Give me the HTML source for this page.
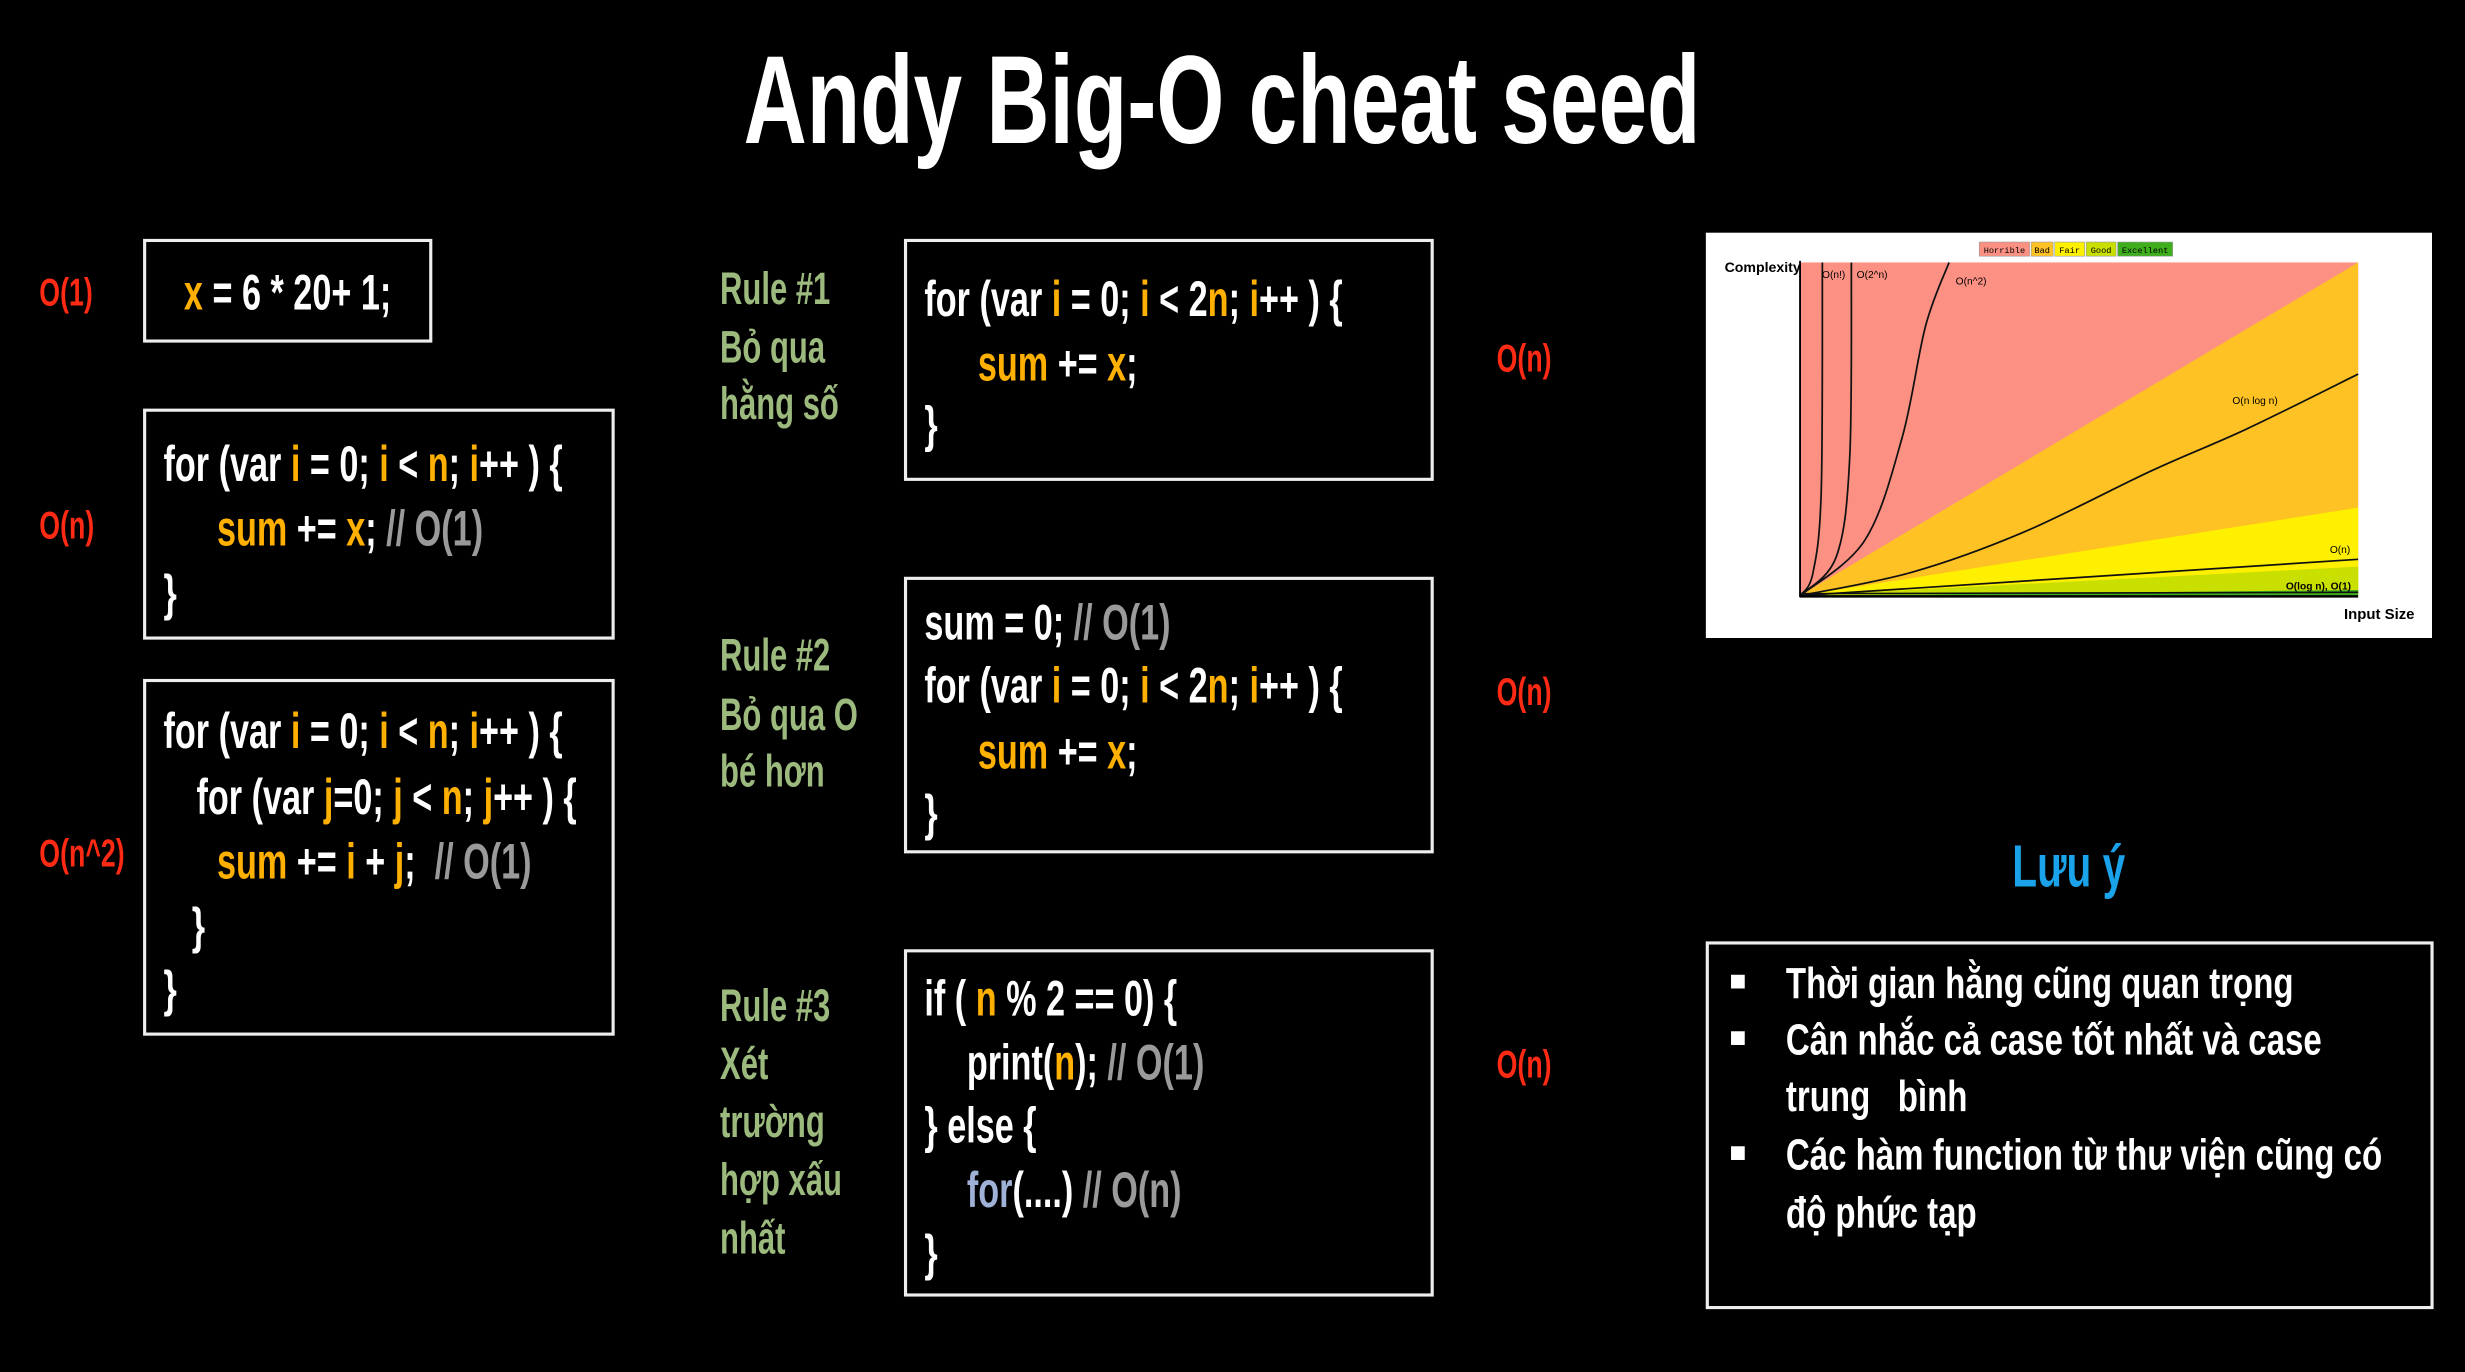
<!DOCTYPE html>
<html><head><meta charset="utf-8">
<style>
html,body{margin:0;padding:0;background:#000;width:2465px;height:1372px;overflow:hidden}
#w{position:absolute;left:0;top:0;width:1568px;height:873px;transform:scale(1.5721,1.5716);transform-origin:0 0;background:#000;
font-family:"Liberation Sans Narrow","Liberation Sans","Noto Sans CJK SC",sans-serif;font-weight:bold;color:#fff}
.t{position:absolute;white-space:nowrap;line-height:1;transform-origin:0 50%;transform:translateY(-50%) scaleX(.68)}
.c{font-size:32px}
.box{position:absolute;border:2px solid #eee;box-sizing:border-box}
.v{color:#ffb000}.g{color:#9a9a9a}.b{color:#9fb1d6}
.red{color:#ff2a14;font-size:25px}
.rule{color:#9cba7e;font-size:29px}
.note{font-size:28px;transform:translateY(-50%) scaleX(.75)}
</style></head><body>
<div id="w">
<div class="t" style="left:473px;top:64px;font-size:80px;transform:translateY(-50%) scaleX(.695)">Andy Big-O cheat seed</div>

<div class="t red" style="left:25px;top:187px">O(1)</div>
<div class="t red" style="left:25px;top:335px">O(n)</div>
<div class="t red" style="left:25px;top:544px">O(n^2)</div>

<div class="box" style="left:91px;top:152px;width:184px;height:66px"></div>
<div class="t c" style="left:117px;top:186px"><span class="v">x</span> = 6 * 20+ 1;</div>

<div class="box" style="left:91px;top:260px;width:300px;height:147px"></div>
<div class="t c" style="left:104px;top:295px">for (var <span class="v">i</span> = 0; <span class="v">i</span> &lt; <span class="v">n</span>; <span class="v">i</span>++ ) {</div>
<div class="t c" style="left:138px;top:336px"><span class="v">sum</span> += <span class="v">x</span>; <span class="g">// O(1)</span></div>
<div class="t c" style="left:104px;top:377px">}</div>

<div class="box" style="left:91px;top:432px;width:300px;height:227px"></div>
<div class="t c" style="left:104px;top:465px">for (var <span class="v">i</span> = 0; <span class="v">i</span> &lt; <span class="v">n</span>; <span class="v">i</span>++ ) {</div>
<div class="t c" style="left:125px;top:507px">for (var <span class="v">j</span>=0; <span class="v">j</span> &lt; <span class="v">n</span>; <span class="v">j</span>++ ) {</div>
<div class="t c" style="left:138px;top:548px"><span class="v">sum</span> += <span class="v">i</span> + <span class="v">j</span>;&nbsp; <span class="g">// O(1)</span></div>
<div class="t c" style="left:122px;top:589px">}</div>
<div class="t c" style="left:104px;top:629px">}</div>

<div class="t rule" style="left:458px;top:185px">Rule #1</div>
<div class="t rule" style="left:458px;top:222px">Bỏ qua</div>
<div class="t rule" style="left:458px;top:258px">hằng số</div>
<div class="t rule" style="left:458px;top:418px">Rule #2</div>
<div class="t rule" style="left:458px;top:456px">Bỏ qua O</div>
<div class="t rule" style="left:458px;top:492px">bé hơn</div>
<div class="t rule" style="left:458px;top:641px">Rule #3</div>
<div class="t rule" style="left:458px;top:678px">Xét</div>
<div class="t rule" style="left:458px;top:715px">trường</div>
<div class="t rule" style="left:458px;top:752px">hợp xấu</div>
<div class="t rule" style="left:458px;top:789px">nhất</div>

<div class="box" style="left:575px;top:152px;width:337px;height:154px"></div>
<div class="t c" style="left:588px;top:190px">for (var <span class="v">i</span> = 0; <span class="v">i</span> &lt; 2<span class="v">n</span>; <span class="v">i</span>++ ) {</div>
<div class="t c" style="left:622px;top:231px"><span class="v">sum</span> += <span class="v">x</span>;</div>
<div class="t c" style="left:588px;top:270px">}</div>

<div class="box" style="left:575px;top:367px;width:337px;height:176px"></div>
<div class="t c" style="left:588px;top:396px">sum = 0; <span class="g">// O(1)</span></div>
<div class="t c" style="left:588px;top:436px">for (var <span class="v">i</span> = 0; <span class="v">i</span> &lt; 2<span class="v">n</span>; <span class="v">i</span>++ ) {</div>
<div class="t c" style="left:622px;top:478px"><span class="v">sum</span> += <span class="v">x</span>;</div>
<div class="t c" style="left:588px;top:517px">}</div>

<div class="box" style="left:575px;top:604px;width:337px;height:221px"></div>
<div class="t c" style="left:588px;top:635px">if ( <span class="v">n</span> % 2 == 0) {</div>
<div class="t c" style="left:615px;top:676px">print(<span class="v">n</span>); <span class="g">// O(1)</span></div>
<div class="t c" style="left:588px;top:716px">} else {</div>
<div class="t c" style="left:615px;top:757px"><span class="b">for</span>(....) <span class="g">// O(n)</span></div>
<div class="t c" style="left:588px;top:797px">}</div>

<div class="t red" style="left:952px;top:229px">O(n)</div>
<div class="t red" style="left:952px;top:441px">O(n)</div>
<div class="t red" style="left:952px;top:678px">O(n)</div>

<svg id="chart" style="position:absolute;left:1085px;top:148px" width="462" height="258" viewBox="1085 148 462 258">
<rect x="1085" y="148" width="462" height="258" fill="#fff"/>
<g id="regions"></g><g id="curves"></g>
<g font-family="Liberation Mono,monospace" font-size="5.5" font-weight="normal">
<rect x="1259" y="154" width="32" height="9" fill="#fc9183" stroke="#999" stroke-width=".4"/><text x="1275" y="161" text-anchor="middle">Horrible</text>
<rect x="1292" y="154" width="14" height="9" fill="#ffc224" stroke="#999" stroke-width=".4"/><text x="1299" y="161" text-anchor="middle">Bad</text>
<rect x="1307" y="154" width="19" height="9" fill="#fff000" stroke="#999" stroke-width=".4"/><text x="1316.5" y="161" text-anchor="middle">Fair</text>
<rect x="1327" y="154" width="19" height="9" fill="#c8df00" stroke="#999" stroke-width=".4"/><text x="1336.5" y="161" text-anchor="middle">Good</text>
<rect x="1347" y="154" width="35" height="9" fill="#3fae1c" stroke="#999" stroke-width=".4"/><text x="1364.5" y="161" text-anchor="middle">Excellent</text>
</g>
<line x1="1145" y1="380" x2="1145" y2="166" stroke="#000" stroke-width="1.2"/>
<line x1="1145" y1="379.5" x2="1500" y2="379.5" stroke="#000" stroke-width="1.6"/>
<text x="1097" y="173" font-size="9" font-family="Liberation Sans Narrow,sans-serif" font-weight="bold">Complexity</text>
<text x="1491" y="394" font-size="9.5" font-family="Liberation Sans Narrow,sans-serif" font-weight="bold">Input Size</text>
</svg>
<script>
// fractions of axis range (x: input size, y: complexity)
const boundaryNames = ['bad','fair','good','excellent'];
const boundaryEnd = [1.0, 0.264, 0.087, 0.017];
const boundaryColors = ['#ffc224','#fff000','#c8df00','#3fae1c'];
const xFact = [0, 0.023, 0.038, 0.04];
const yFact = [0, 0.067, 0.316, 1];
const xExp = [0, 0.065, 0.089, 0.092];
const yExp = [0, 0.117, 0.415, 1];
const xSq = [0, 0.116, 0.183, 0.225, 0.267];
const ySq = [0, 0.166, 0.475, 0.81, 1];
const xNlogN = [0, 0.2, 0.4, 0.63, 0.8, 1];
const yNlogN = [0, 0.07, 0.19, 0.375, 0.5, 0.665];
const xLin = [0, 1];
const yLin = [0, 0.109];
const X0=1145,X1=1500,Y0=379,Y1=167;
function sx(v){return X0+v*(X1-X0);}
function sy(v){return Y0-v*(Y0-Y1);}
const NS='http://www.w3.org/2000/svg';
const reg=document.getElementById('regions');
const bg=document.createElementNS(NS,'rect');
bg.setAttribute('x',sx(0));bg.setAttribute('y',sy(1));bg.setAttribute('width',sx(1)-sx(0));bg.setAttribute('height',sy(0)-sy(1));bg.setAttribute('fill','#fc9183');


reg.appendChild(bg);
boundaryEnd.forEach((e,i)=>{
  const p=document.createElementNS(NS,'polygon');
  p.setAttribute('points',`${sx(0)},${sy(0)} ${sx(1)},${sy(e)} ${sx(1)},${sy(0)}`);
  p.setAttribute('fill',boundaryColors[i]);
  
  
  reg.appendChild(p);
});
const cv=document.getElementById('curves');
function curve(xs,ys,name,label,lx,ly){
  const pts=xs.map((x,i)=>[sx(x),sy(ys[i])]);
  let d='M'+pts[0][0]+','+pts[0][1];
  for(let i=1;i<pts.length;i++){
    const p0=pts[Math.max(0,i-2)],p1=pts[i-1],p2=pts[i],p3=pts[Math.min(pts.length-1,i+1)];
    const c1x=p1[0]+(p2[0]-p0[0])/6,c1y=p1[1]+(p2[1]-p0[1])/6,c2x=p2[0]-(p3[0]-p1[0])/6,c2y=p2[1]-(p3[1]-p1[1])/6;
    d+=` C${c1x},${c1y} ${c2x},${c2y} ${p2[0]},${p2[1]}`;
  }
  const path=document.createElementNS(NS,'path');
  path.setAttribute('d',d);path.setAttribute('fill','none');path.setAttribute('stroke','#111');path.setAttribute('stroke-width','1.1');
  
  
  cv.appendChild(path);
  const t=document.createElementNS(NS,'text');
  t.setAttribute('x',lx);t.setAttribute('y',ly);t.setAttribute('font-size','6.5');t.setAttribute('font-family','Liberation Sans,sans-serif');t.setAttribute('font-weight','normal');
  t.textContent=label;
  
  
  cv.appendChild(t);
}
curve(xFact,yFact,'curve-factorial','O(n!)',1159,177);
curve(xExp,yExp,'curve-exponential','O(2^n)',1181,177);
curve(xSq,ySq,'curve-quadratic','O(n^2)',1244,181);
curve(xNlogN,yNlogN,'curve-nlogn','O(n log n)',1420,257);
curve(xLin,yLin,'curve-linear','O(n)',1482,352);
const lt=document.createElementNS(NS,'text');
lt.setAttribute('x',1454);lt.setAttribute('y',375);lt.setAttribute('font-size','6.5');lt.setAttribute('font-family','Liberation Sans,sans-serif');lt.textContent='O(log n), O(1)';


cv.appendChild(lt);
const ax=document.createElementNS(NS,'line');
ax.setAttribute('x1',sx(0));ax.setAttribute('y1',sy(0.006));ax.setAttribute('x2',sx(1));ax.setAttribute('y2',sy(0.01));ax.setAttribute('stroke','#111');ax.setAttribute('stroke-width','1');


cv.appendChild(ax);
</script>

<div class="t" style="left:1280px;top:552px;font-size:38px;color:#1aa3ea">Lưu ý</div>
<div class="box" style="left:1085px;top:599px;width:463px;height:234px"></div>
<div class="t" style="left:1100px;top:624px;font-size:18px;transform:translateY(-50%)">■</div>
<div class="t note" style="left:1136px;top:626px">Thời gian hằng cũng quan trọng</div>
<div class="t" style="left:1100px;top:660px;font-size:18px;transform:translateY(-50%)">■</div>
<div class="t note" style="left:1136px;top:662px">Cân nhắc cả case tốt nhất và case</div>
<div class="t note" style="left:1136px;top:698px">trung&nbsp;&nbsp; bình</div>
<div class="t" style="left:1100px;top:733px;font-size:18px;transform:translateY(-50%)">■</div>
<div class="t note" style="left:1136px;top:735px">Các hàm function từ thư viện cũng có</div>
<div class="t note" style="left:1136px;top:772px">độ phức tạp</div>
</div>
</body></html>
